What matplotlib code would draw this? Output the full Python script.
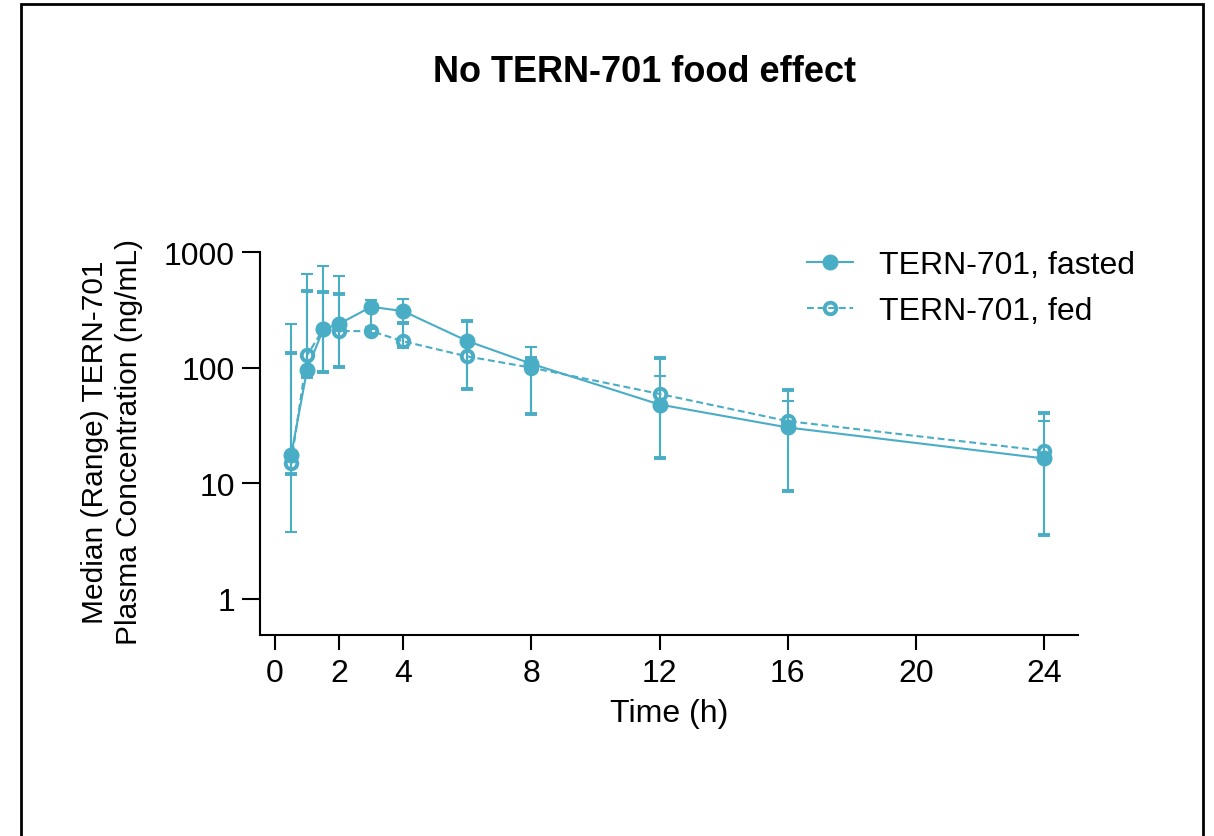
import matplotlib
matplotlib.use("Agg")
import matplotlib.pyplot as plt
from matplotlib.patches import Rectangle
from matplotlib.lines import Line2D
from matplotlib.ticker import FixedLocator, NullLocator

plt.rcParams['font.family'] = ['Liberation Sans', 'DejaVu Sans']

# Data
time_h = [0.5, 1, 1.5, 2, 3, 4, 6, 8, 12, 16, 24]

fasted_median = [17.4, 96, 214, 239, 336, 308, 170, 108, 48, 30.4, 16.4]
fasted_low = [3.8, 83, 92, 102, 215, 244, 66, 40, 16.4, 8.6, 3.6]
fasted_high = [238, 650, 757, 617, 388, 390, 254, 152, 84, 51.6, 34.5]

fed_median = [14.9, 128, 214, 207, 207, 169, 125, 100, 59.3, 34.5, 19.1]
fed_low = [12, 83, 92, 102, 195, 151, 66, 40, 16.4, 8.6, 3.6]
fed_high = [135, 464, 455, 434, 220, 244, 254, 120, 120, 63.7, 40.7]

x_ticks = [0, 2, 4, 8, 12, 16, 20, 24]
y_ticks = [1, 10, 100, 1000]
y_tick_labels = ["1", "10", "100", "1000"]

color = "#4aadc6"

W, H = 1214, 837
fig = plt.figure(figsize=(W / 100, H / 100), dpi=100)
ax = fig.add_axes([260 / W, 1 - 636 / H, (1078 - 260) / W, (636 - 253) / H])

fasted_err = [[m - lo for m, lo in zip(fasted_median, fasted_low)],
              [hi - m for m, hi in zip(fasted_median, fasted_high)]]
fed_err = [[m - lo for m, lo in zip(fed_median, fed_low)],
           [hi - m for m, hi in zip(fed_median, fed_high)]]

fed_style = dict(color=color, lw=1.5, dashes=(3.3, 1.8), marker='o', ms=8.3,
                 mfc='none', mec=color, mew=2.8)
fasted_style = dict(color=color, lw=1.5, marker='o', ms=10.5, mfc=color, mec=color)

ax.errorbar(time_h, fed_median, yerr=fed_err, elinewidth=1.5, capsize=4.6,
            capthick=1.5, zorder=3, **fed_style)
ax.errorbar(time_h, fasted_median, yerr=fasted_err, elinewidth=1.5, capsize=4.6,
            capthick=1.5, zorder=4, **fasted_style)

ax.set_yscale('log')
ax.set_xlim(-0.47, 25.06)
ax.set_ylim(0.488, 1000)
ax.xaxis.set_major_locator(FixedLocator(x_ticks))
ax.set_xticklabels([str(t) for t in x_ticks])
ax.yaxis.set_major_locator(FixedLocator(y_ticks))
ax.yaxis.set_minor_locator(NullLocator())
ax.set_yticklabels(y_tick_labels)

for side in ['top', 'right']:
    ax.spines[side].set_visible(False)
for side in ['left', 'bottom']:
    ax.spines[side].set_linewidth(1.5)
ax.tick_params(axis='x', length=10.5, width=1.5, labelsize=23, pad=6)
ax.tick_params(axis='y', length=13, width=1.5, labelsize=23, pad=5)

ax.set_xlabel("Time (h)", fontsize=23, labelpad=7)
fig.text(112 / W, 1 - 442 / H, "Median (Range) TERN-701\nPlasma Concentration (ng/mL)",
         rotation=90, ha='center', va='center', fontsize=21.5,
         multialignment='center', linespacing=1.25)

fig.text(645 / W, 1 - 73 / H, "No TERN-701 food effect", ha='center', va='center',
         fontsize=26, fontweight='bold')

handles = [Line2D([], [], **fasted_style), Line2D([], [], **fed_style)]
labels = ["TERN-701, fasted", "TERN-701, fed"]
ax.legend(handles, labels, loc='upper left',
          bbox_to_anchor=(807 / W, 1 - 251 / H), bbox_transform=fig.transFigure,
          frameon=False, fontsize=23, handlelength=1.45, handletextpad=0.8,
          borderpad=0, borderaxespad=0, labelspacing=0.5)

fig.add_artist(Rectangle((21 / W, -0.1), (1203 - 21) / W, 1.1 - 5 / H,
                         transform=fig.transFigure, fill=False,
                         ec='black', lw=2))

fig.savefig("out.png", dpi=100, facecolor='white')
